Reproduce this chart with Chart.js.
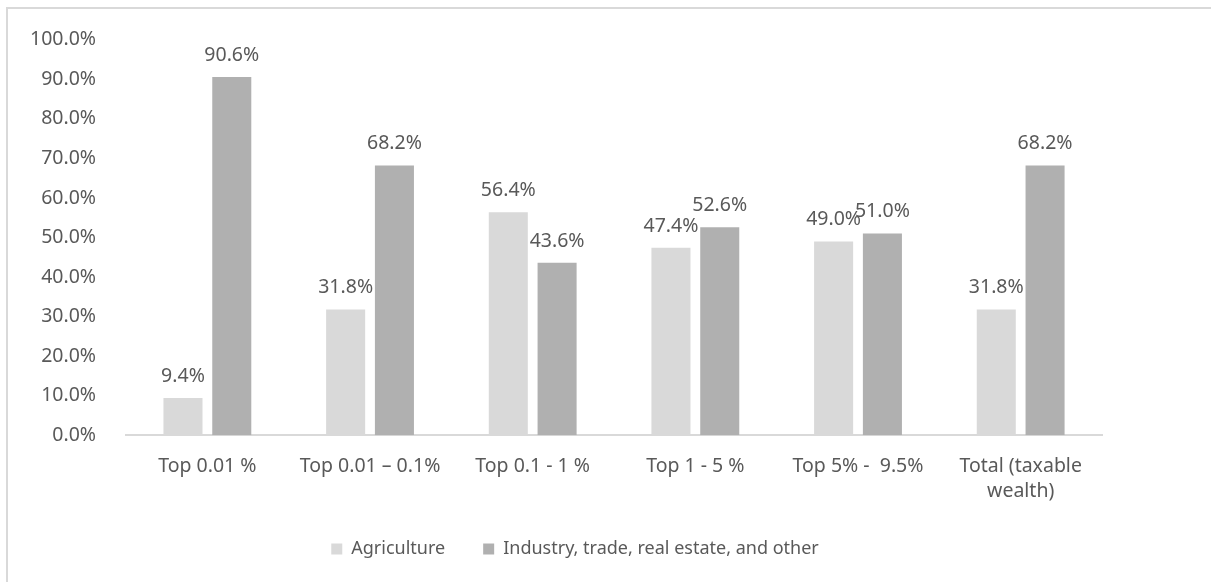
<!DOCTYPE html>
<html lang="en">
<head>
    <meta charset="UTF-8">
    <title>Agriculture vs Industry share by wealth group</title>
    <style>
        html, body { margin: 0; padding: 0; background: #fff; overflow: hidden; }
        .frame {
            position: absolute; left: 6px; top: 7px;
            width: 1240px; height: 600px;
            border: 2px solid #d9d9d9;
            box-sizing: border-box;
        }
        .wrap { position: absolute; left: 8px; top: 6px; width: 1140px; height: 576px; }
    </style>
</head>
<body>
    <div class="frame"></div>
    <div class="wrap">
        <canvas id="myChart"></canvas>
    </div>

    <script src="https://cdn.jsdelivr.net/npm/chart.js"></script>
    <script>
        const categories = ['Top 0.01 %', 'Top 0.01 – 0.1%', 'Top 0.1 - 1 %', 'Top 1 - 5 %', 'Top 5% -  9.5%', ['Total (taxable', 'wealth)']];
        const agriculture = [9.4, 31.8, 56.4, 47.4, 49.0, 31.8];
        const industry = [90.6, 68.2, 43.6, 52.6, 51.0, 68.2];
        const seriesNames = ['Agriculture', 'Industry, trade, real estate, and other'];

        const textColor = '#595959';
        const fontFamily = '"Noto Sans", "Open Sans", sans-serif';
        const fontSize = 19.5;

        // simple value labels above each bar (no datalabels plugin offline)
        const barLabels = {
            id: 'barLabels',
            afterDatasetsDraw(chart) {
                const ctx = chart.ctx;
                ctx.save();
                ctx.font = fontSize + 'px ' + fontFamily;
                ctx.fillStyle = textColor;
                ctx.textAlign = 'center';
                ctx.textBaseline = 'bottom';
                chart.data.datasets.forEach((ds, i) => {
                    chart.getDatasetMeta(i).data.forEach((bar, j) => {
                        ctx.fillText(ds.data[j].toFixed(1) + '%', bar.x, bar.y - 12);
                    });
                });
                ctx.restore();
            }
        };

        // nudge the legend a bit to the right, like the original
        const legendShift = {
            id: 'legendShift',
            afterLayout(chart) {
                chart.legend.left += 20;
                chart.legend.right += 20;
            }
        };

        Chart.defaults.font.family = fontFamily;
        Chart.defaults.color = textColor;

        new Chart(document.getElementById('myChart'), {
            type: 'bar',
            data: {
                labels: categories,
                datasets: [
                    { label: seriesNames[0], data: agriculture, backgroundColor: '#d9d9d9' },
                    { label: seriesNames[1], data: industry, backgroundColor: '#b0b0b0' }
                ]
            },
            options: {
                responsive: true,
                maintainAspectRatio: false,
                animation: false,
                categoryPercentage: 0.6,
                barPercentage: 0.8,
                layout: { padding: { left: 0, right: 46, top: 12, bottom: 14 } },
                plugins: {
                    tooltip: { enabled: false },
                    legend: {
                        position: 'bottom',
                        labels: {
                            boxWidth: 11, boxHeight: 11,
                            padding: 38,
                            font: { size: 18 },
                            color: textColor
                        }
                    }
                },
                scales: {
                    x: {
                        grid: { display: false },
                        border: { color: '#d9d9d9', width: 2 },
                        ticks: { font: { size: fontSize, lineHeight: 1.3 }, padding: 10, maxRotation: 0 },
                        afterFit: scale => { scale.height -= 12; } // legend padding already gives the gap
                    },
                    y: {
                        min: 0, max: 100,
                        grid: { display: false },
                        border: { display: false },
                        ticks: {
                            stepSize: 10,
                            padding: 22,
                            font: { size: fontSize },
                            callback: v => v.toFixed(1) + '%'
                        }
                    }
                }
            },
            plugins: [barLabels, legendShift]
        });
    </script>
</body>
</html>
